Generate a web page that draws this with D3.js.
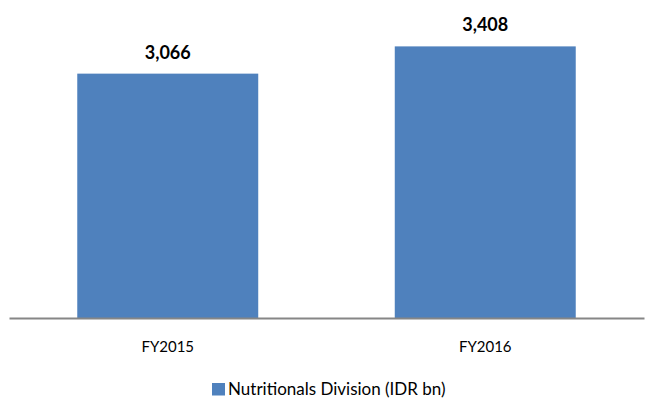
<!DOCTYPE html>
<html>
<head>
<meta charset="utf-8">
<script src="https://cdn.jsdelivr.net/npm/d3@7"></script>
<style>
  html, body { margin: 0; padding: 0; background: #fff; }
  svg { display: block; }
  text { font-family: Lato, "Open Sans", sans-serif; fill: #000; }
</style>
</head>
<body>
<svg id="chart" width="645" height="399"></svg>
<script>
// Revenue of the nutritionals division by fiscal year
const categories = ["FY2015", "FY2016"];
const values = [3066, 3408];
const seriesName = "Nutritionals Division (IDR bn)";

const W = 645, H = 399;
const plot = { left: 9, right: 644, top: 0, bottom: 318 };
const barColor = "#4F81BD";

const svg = d3.select("#chart");

const x = d3.scaleBand()
  .domain(categories)
  .range([plot.left, plot.right])
  .paddingInner(0.43)
  .paddingOuter(0.215);

const y = d3.scaleLinear()
  .domain([0, 3990])
  .range([plot.bottom, plot.top]);

// bars
svg.append("g")
  .selectAll("rect")
  .data(values)
  .join("rect")
  .attr("x", (d, i) => x(categories[i]))
  .attr("y", d => y(d))
  .attr("width", x.bandwidth())
  .attr("height", d => y(0) - y(d))
  .attr("fill", barColor);

// value labels
const fmt = d3.format(",");
svg.append("g")
  .selectAll("text")
  .data(values)
  .join("text")
  .attr("x", (d, i) => x(categories[i]) + x.bandwidth() / 2)
  .attr("y", d => y(d) - 15)
  .attr("text-anchor", "middle")
  .style("font-size", "18px")
  .style("font-weight", "bold")
  .text(d => fmt(d));

// category axis
const xAxis = svg.append("g")
  .attr("transform", `translate(0,${plot.bottom})`)
  .call(d3.axisBottom(x).tickSize(0).tickPadding(23));
xAxis.select(".domain")
  .attr("stroke", "#868686")
  .attr("stroke-width", 2);
xAxis.selectAll("text")
  .style("font-size", "15px")
  .style("font-family", "Lato, 'Open Sans', sans-serif")
  .attr("fill", "#000");

// legend
const legend = svg.append("g").attr("transform", "translate(212,383)");
legend.append("rect")
  .attr("width", 13)
  .attr("height", 12.5)
  .attr("fill", barColor);
legend.append("text")
  .attr("x", 16)
  .attr("y", 12)
  .style("font-size", "17px")
  .text(seriesName);
</script>
</body>
</html>
